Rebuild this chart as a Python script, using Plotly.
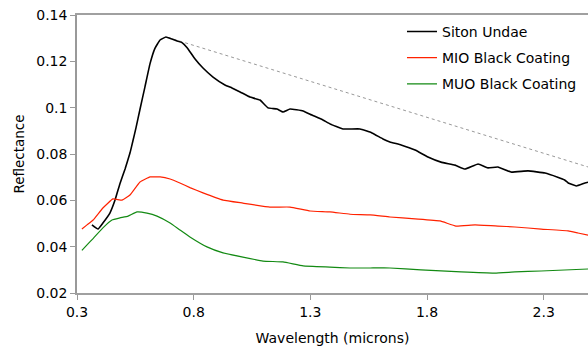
import plotly.graph_objects as go

# Siton Undae
siton_x = [0.364, 0.39, 0.411, 0.441, 0.463, 0.484, 0.506, 0.527, 0.54, 0.553, 0.570, 0.591, 0.613,
           0.634, 0.656, 0.681, 0.707, 0.729, 0.75, 0.771, 0.806, 0.84, 0.883, 0.934, 0.964, 0.999,
           1.041, 1.084, 1.119, 1.157, 1.183, 1.213, 1.269, 1.307, 1.354, 1.384, 1.44, 1.513, 1.564,
           1.611, 1.641, 1.689, 1.749, 1.804, 1.860, 1.92, 1.963, 2.019, 2.061, 2.104, 2.16, 2.233,
           2.306, 2.36, 2.39, 2.405, 2.44, 2.477, 2.50]
siton_y = [0.0494, 0.0476, 0.0502, 0.0545, 0.0601, 0.0672, 0.0735, 0.0804, 0.0858, 0.0914, 0.0993,
           0.1089, 0.1190, 0.1256, 0.1292, 0.1305, 0.1296, 0.1288, 0.1281, 0.126, 0.121, 0.1171,
           0.1132, 0.1098, 0.1085, 0.1068, 0.1046, 0.1033, 0.0999, 0.0994, 0.0981, 0.0994, 0.0986,
           0.0968, 0.0947, 0.0930, 0.0908, 0.0908, 0.0891, 0.0865, 0.0852, 0.0839, 0.0817, 0.0787,
           0.0765, 0.0752, 0.0735, 0.0757, 0.074, 0.0744, 0.0722, 0.0727, 0.0718, 0.070, 0.0688,
           0.0675, 0.0662, 0.0675, 0.068]

# MIO Black Coating
mio_x = [0.321, 0.343, 0.369, 0.411, 0.454, 0.493, 0.527, 0.570, 0.613, 0.656, 0.699, 0.741, 0.784,
         0.84, 0.926, 1.011, 1.127, 1.213, 1.299, 1.384, 1.47, 1.556, 1.641, 1.749, 1.856, 1.924,
         2.006, 2.104, 2.177, 2.289, 2.405, 2.447, 2.50]
mio_y = [0.0476, 0.0494, 0.0515, 0.0567, 0.0606, 0.0601, 0.0623, 0.0679, 0.0701, 0.0701, 0.0692,
         0.0675, 0.0655, 0.0632, 0.0601, 0.0588, 0.0571, 0.0571, 0.0554, 0.055, 0.054, 0.0537,
         0.0528, 0.052, 0.0511, 0.0489, 0.0494, 0.0489, 0.0485, 0.0476, 0.0468, 0.0459, 0.0448]

# MUO Black Coating
muo_x = [0.321, 0.343, 0.369, 0.411, 0.45, 0.484, 0.519, 0.557, 0.6, 0.643, 0.699, 0.741, 0.784,
         0.857, 0.926, 1.011, 1.097, 1.183, 1.269, 1.384, 1.47, 1.556, 1.641, 1.774, 1.946, 2.09,
         2.177, 2.289, 2.50]
muo_y = [0.0384, 0.0408, 0.0435, 0.0481, 0.0515, 0.0524, 0.0532, 0.055, 0.0545, 0.0532, 0.0502,
         0.0472, 0.0442, 0.0399, 0.0373, 0.0355, 0.0338, 0.0334, 0.0317, 0.0312, 0.0308, 0.0308,
         0.0308, 0.030, 0.0291, 0.0286, 0.0291, 0.0295, 0.0304]

# Continuum (dotted)
cont_x = [0.69, 2.50]
cont_y = [0.1303, 0.0741]

x_ticks = [0.3, 0.8, 1.3, 1.8, 2.3]
y_ticks = [0.02, 0.04, 0.06, 0.08, 0.10, 0.12, 0.14]
y_ticklabels = ["0.02", "0.04", "0.06", "0.08", "0.1", "0.12", "0.14"]

fig = go.Figure()
fig.add_trace(go.Scatter(x=cont_x, y=cont_y, mode="lines", showlegend=False,
                         line=dict(color="#999999", width=1, dash="dot")))
fig.add_trace(go.Scatter(x=siton_x, y=siton_y, mode="lines", name="Siton Undae", legendgroup="a",
                         line=dict(color="#000000", width=1.6, shape="spline", smoothing=0.3)))
fig.add_trace(go.Scatter(x=mio_x, y=mio_y, mode="lines", name="MIO Black Coating", legendgroup="b",
                         line=dict(color="#ff2200", width=1.2, shape="spline", smoothing=0.3)))
fig.add_trace(go.Scatter(x=muo_x, y=muo_y, mode="lines", name="MUO Black Coating", legendgroup="c",
                         line=dict(color="#138a13", width=1.2, shape="spline", smoothing=0.3)))

fig.update_layout(
    width=588, height=346,
    margin=dict(l=77, r=0, t=15, b=53),
    paper_bgcolor="white", plot_bgcolor="white",
    font=dict(family="DejaVu Sans", size=14, color="#000000"),
    legend=dict(x=0.636, y=0.997, xanchor="left", yanchor="top", bgcolor="rgba(0,0,0,0)",
                font=dict(size=14), tracegroupgap=5, itemwidth=30),
    xaxis=dict(range=[0.3, 2.49], tickvals=x_ticks, ticks="outside", ticklen=5,
               tickcolor="#999999", showline=True, linecolor="#a0a0a0", linewidth=1.5,
               mirror=True, showgrid=False, zeroline=False,
               title=dict(text="Wavelength (microns)", standoff=17, font=dict(size=14)),
               tickfont=dict(size=14)),
    yaxis=dict(range=[0.02, 0.14], tickvals=y_ticks, ticktext=y_ticklabels, ticks="outside",
               ticklen=5, tickcolor="#999999", showline=True, linecolor="#999999",
               linewidth=1.5, showgrid=False, zeroline=False, ticklabeloverflow="allow",
               title=dict(text="Reflectance", standoff=9, font=dict(size=13.5)),
               tickfont=dict(size=14)),
)

fig.write_html("out.html", config={"displayModeBar": False},
               post_script="document.body.style.margin='0';document.body.style.overflow='hidden';")
